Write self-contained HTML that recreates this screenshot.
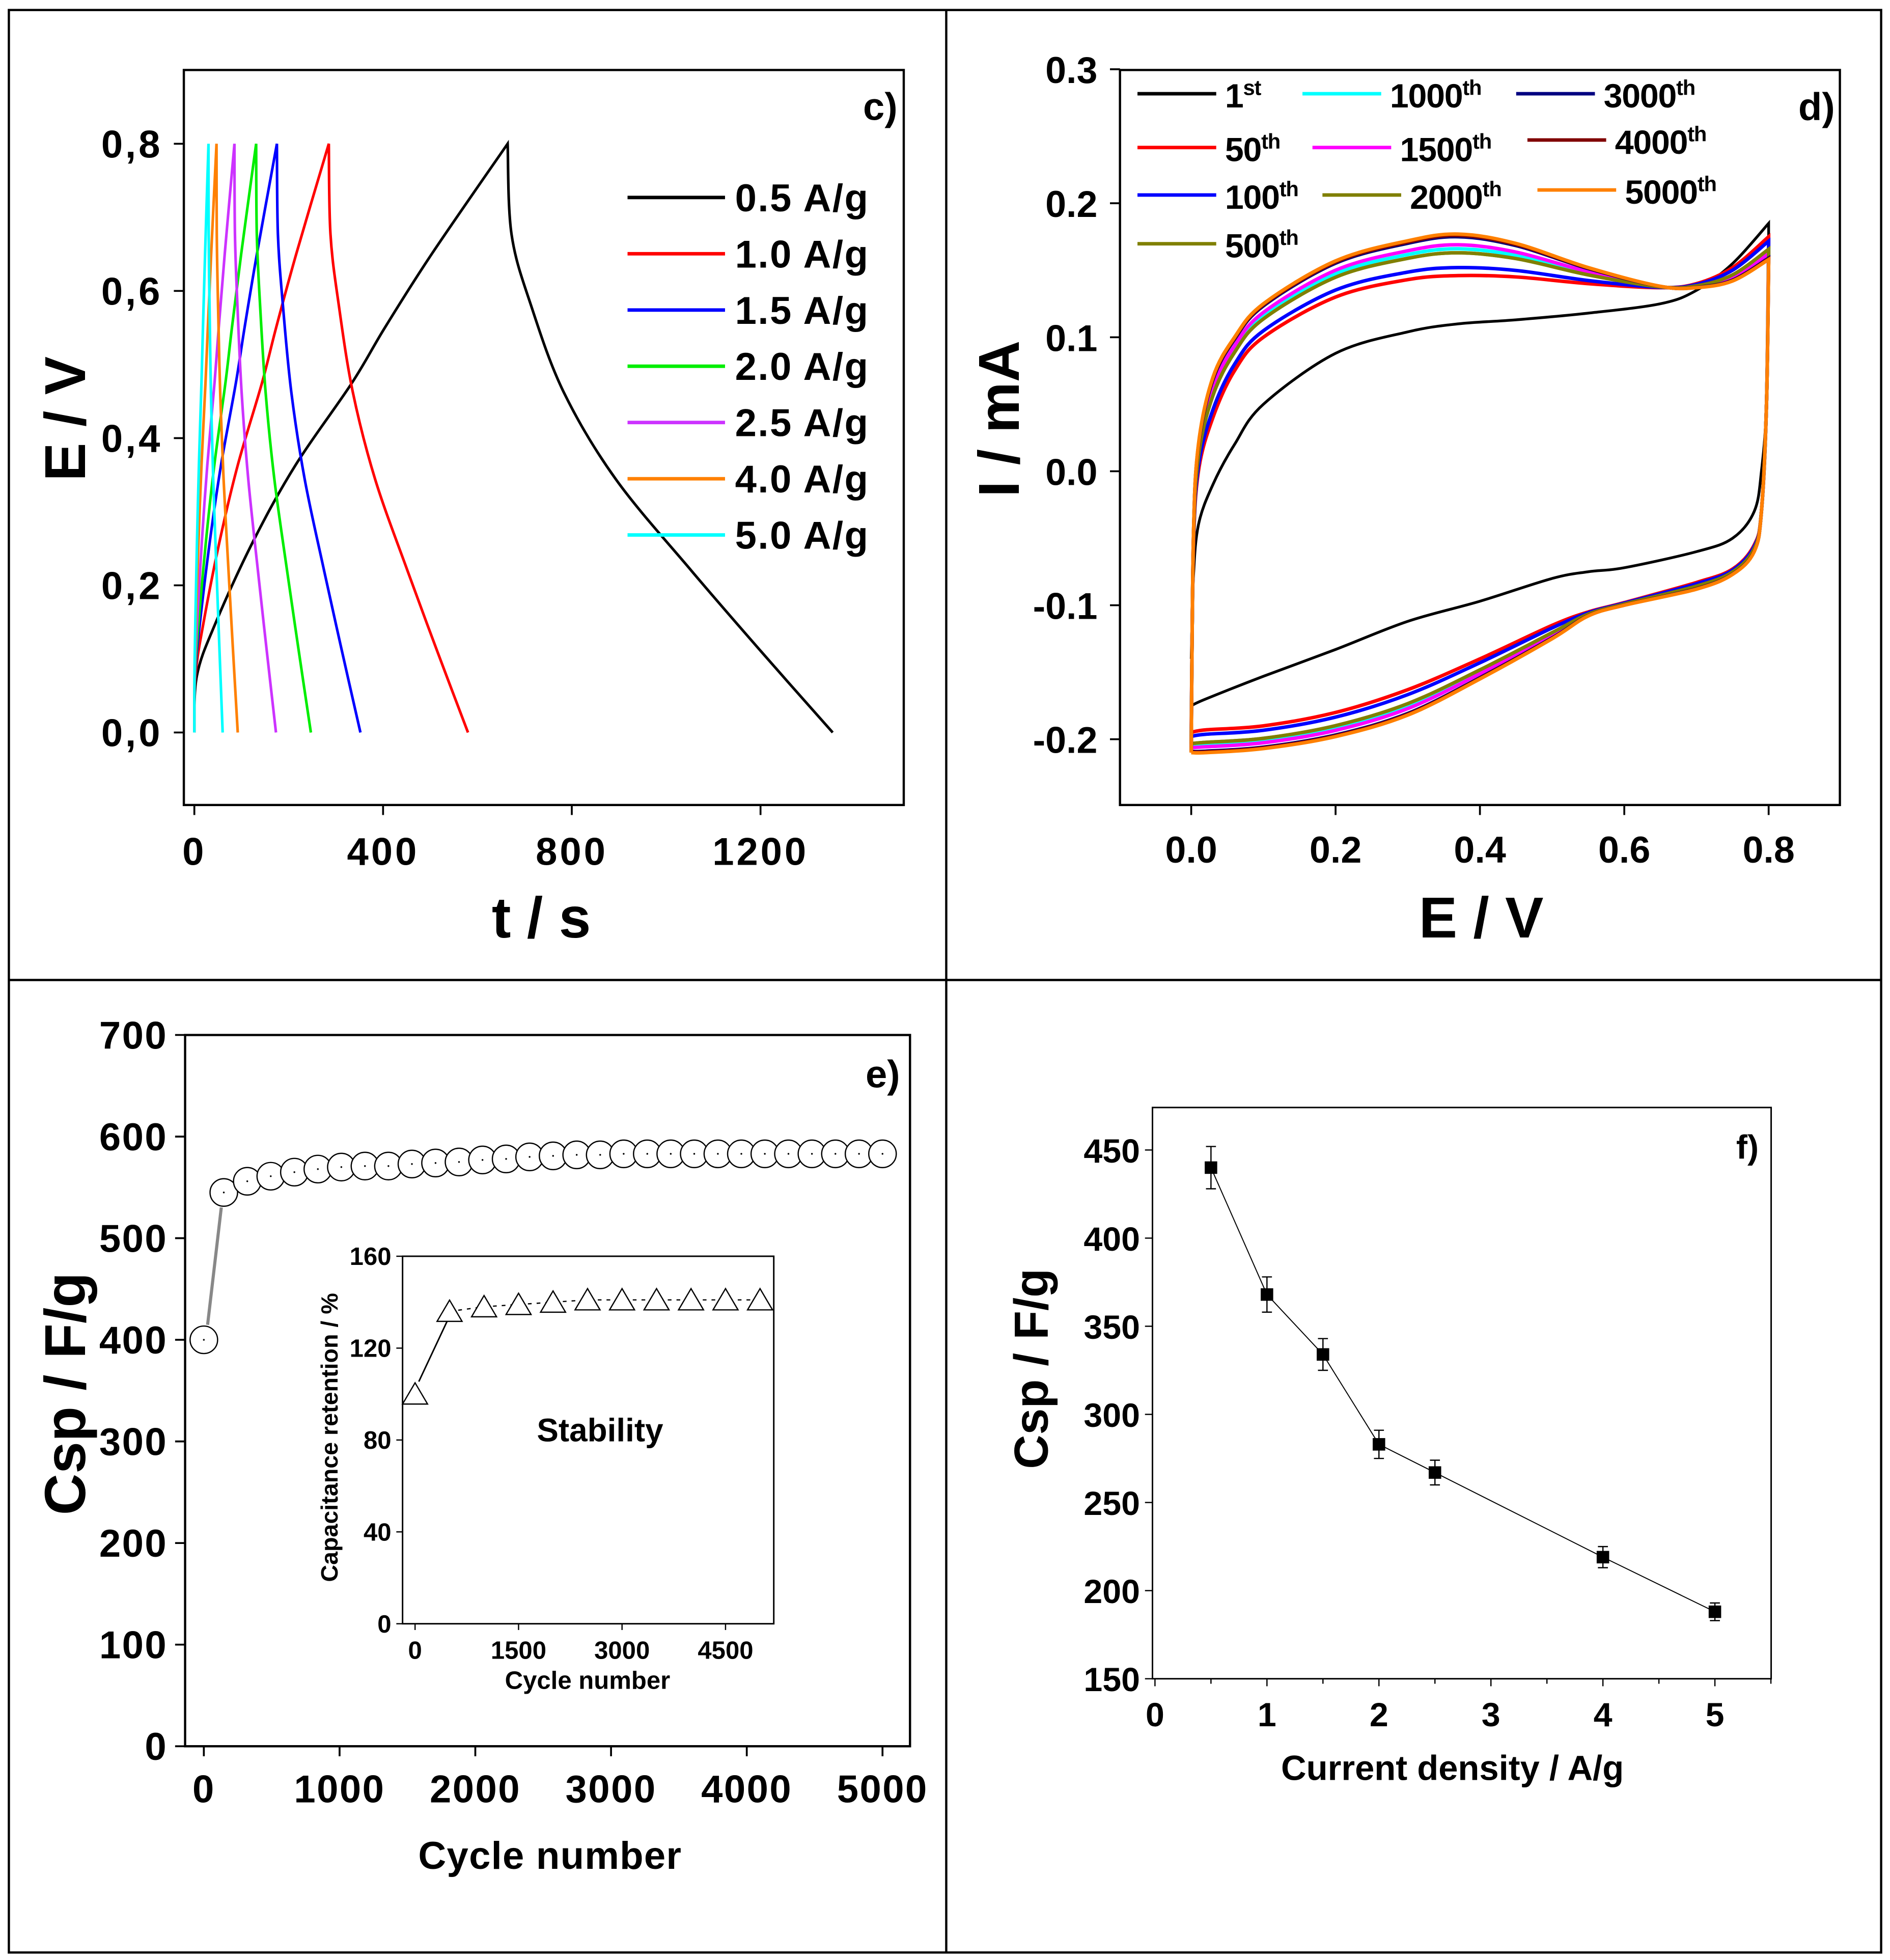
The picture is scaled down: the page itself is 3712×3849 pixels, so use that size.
<!DOCTYPE html>
<html><head><meta charset="utf-8">
<style>
html,body{margin:0;padding:0;background:#fff;}
svg{display:block;}
text{font-family:"Liberation Sans",sans-serif;font-weight:bold;fill:#000;}
.nar{font-family:"Liberation Sans Narrow","Liberation Sans",sans-serif;}
</style></head>
<body>
<svg id="fig" xmlns="http://www.w3.org/2000/svg" width="3712" height="3849" viewBox="0 0 1512 1568">
<rect x="0" y="0" width="1512" height="1568" fill="#fff"/>
<g stroke="#000" stroke-width="1.8" fill="none">
<rect x="7" y="8" width="1498" height="1554"/>
<line x1="757" y1="8" x2="757" y2="1562"/>
<line x1="7" y1="784" x2="1505" y2="784"/>
</g>
<g id="pc"></g>
<g id="pd"></g>
<g id="pe"></g>
<g id="pf"></g>
</svg>
<script>
// ---------- Panel c data ----------
const gcdLabels = ["0.5 A/g","1.0 A/g","1.5 A/g","2.0 A/g","2.5 A/g","4.0 A/g","5.0 A/g"];
const gcdColors = ["#000000","#ff0000","#0000ff","#00ee00","#cc33ff","#ff8000","#00ffff"];
const gcdChargeEnd = [664,285,175,131,85,47,30];
const gcdDischargeEnd = [1353,580,352,247,173,92,60];
const chargeFrac = [0,0.008,0.068,0.188,0.324,0.503,0.608,0.759,1];
const chargeE = [0,0.077,0.149,0.26,0.364,0.475,0.55,0.651,0.8];
const dischFrac = [0,0.012,0.073,0.173,0.333,0.565,0.78,1];
const dischE = [0.8,0.677,0.579,0.462,0.344,0.22,0.11,0];
const cXTicks = [0,400,800,1200];
const cYTicks = [0,0.2,0.4,0.6,0.8];
const cYTickLabels = ["0,0","0,2","0,4","0,6","0,8"];

// ---------- Panel d data ----------
const cvLabels = ["1st","50th","100th","500th","1000th","1500th","2000th","3000th","4000th","5000th"];
const cvColors = ["#000000","#ff0000","#0000ff","#808000","#00ffff","#ff00ff","#808000","#000080","#800000","#ff8000"];
const cvPeak = [null,0.146,0.152,0.163,0.166,0.169,0.163,0.175,0.176,0.177];
const cvEUp = [0,0.003,0.01,0.03,0.06,0.1,0.2,0.3,0.37,0.45,0.55,0.65,0.7,0.75,0.8];
const cvEDown = [0.8,0.797,0.79,0.78,0.75,0.7,0.6,0.55,0.5,0.4,0.3,0.2,0.1,0.02,0];
const cv1Up = [-0.14,-0.08,-0.04,-0.01,0.02,0.05,0.088,0.104,0.11,0.113,0.118,0.125,0.135,0.155,0.185];
const cv1Down = [0.15,0.05,0.0,-0.03,-0.05,-0.06,-0.072,-0.075,-0.08,-0.097,-0.112,-0.133,-0.153,-0.17,-0.175];
const cvLoUp = [-0.195,-0.06,0.0,0.04,0.075,0.1,0.13,0.143,0.146,0.145,0.14,0.137,0.14,0.152,0.175];
const cvLoDown = [0.17,0.05,-0.03,-0.055,-0.073,-0.083,-0.098,-0.105,-0.115,-0.14,-0.163,-0.18,-0.19,-0.193,-0.195];
const cvHiUp = [-0.21,-0.05,0.02,0.07,0.1,0.125,0.157,0.172,0.177,0.17,0.152,0.138,0.137,0.142,0.158];
const cvHiDown = [0.155,0.05,-0.03,-0.06,-0.077,-0.088,-0.1,-0.108,-0.125,-0.155,-0.182,-0.198,-0.207,-0.21,-0.21];
const dXTicks = [0,0.2,0.4,0.6,0.8];
const dXTickLabels = ["0.0","0.2","0.4","0.6","0.8"];
const dYTicks = [-0.2,-0.1,0,0.1,0.2,0.3];
const dYTickLabels = ["-0.2","-0.1","0.0","0.1","0.2","0.3"];

// ---------- Panel e data ----------
const eCycles = [0,147,320,493,667,840,1013,1187,1360,1533,1707,1880,2053,2227,2400,2573,2747,2920,3093,3267,3440,3613,3787,3960,4133,4307,4480,4653,4827,5000];
const eCsp = [400,545,556,561,565,568,570,571,571,573,574,575,577,578,580,581,582,582,583,583,583,583,583,583,583,583,583,583,583,583];
const eXTicks = [0,1000,2000,3000,4000,5000];
const eYTicks = [0,100,200,300,400,500,600,700];
const insetCycles = [0,500,1000,1500,2000,2500,3000,3500,4000,4500,5000];
const insetRet = [100,136,138,139,140,141,141,141,141,141,141];
const insetXTicks = [0,1500,3000,4500];
const insetYTicks = [0,40,80,120,160];

// ---------- Panel f data ----------
const fCurrent = [0.5,1,1.5,2,2.5,4,5];
const fCsp = [440,368,334,283,267,219,188];
const fErr = [12,10,9,8,7,6,5];
const fXTicks = [0,1,2,3,4,5];
const fYTicks = [150,200,250,300,350,400,450];

const NS="http://www.w3.org/2000/svg";
function el(parent,tag,attrs){const e=document.createElementNS(NS,tag);for(const k in attrs)e.setAttribute(k,attrs[k]);parent.appendChild(e);return e;}
function txt(parent,x,y,s,size,anchor,extra){const t=el(parent,'text',Object.assign({x:x,y:y,'font-size':size,'text-anchor':anchor||'middle'},extra||{}));t.textContent=s;return t;}
function smooth(pts){let d='M'+pts[0][0].toFixed(2)+','+pts[0][1].toFixed(2);
 for(let i=0;i<pts.length-1;i++){const p0=pts[Math.max(0,i-1)],p1=pts[i],p2=pts[i+1],p3=pts[Math.min(pts.length-1,i+2)];
  const c1=[p1[0]+(p2[0]-p0[0])/6,p1[1]+(p2[1]-p0[1])/6],c2=[p2[0]-(p3[0]-p1[0])/6,p2[1]-(p3[1]-p1[1])/6];
  d+=' C'+c1[0].toFixed(2)+','+c1[1].toFixed(2)+' '+c2[0].toFixed(2)+','+c2[1].toFixed(2)+' '+p2[0].toFixed(2)+','+p2[1].toFixed(2);}
 return d;}

// ================= Panel c =================
(function(){
const g=document.getElementById('pc');
const X=t=>155.4+t*0.3775, Y=v=>586-v*588.75;
gcdLabels.forEach((lab,i)=>{
  const tc=gcdChargeEnd[i], td=gcdDischargeEnd[i];
  const pts=[];
  chargeFrac.forEach((f,k)=>pts.push([X(f*tc),Y(chargeE[k])]));
  const up=smooth(pts);
  const pts2=[];
  dischFrac.forEach((f,k)=>pts2.push([X(tc+f*(td-tc)),Y(dischE[k])]));
  const dn=smooth(pts2).replace(/^M/,' L');
  const p=el(g,'path',{d:up+dn,fill:'none',stroke:gcdColors[i],'stroke-width':2.1});
  
  
});
const ax=el(g,'rect',{x:147,y:56,width:576,height:588,fill:'none',stroke:'#000','stroke-width':1.8});

cXTicks.forEach(t=>{el(g,'line',{x1:X(t),x2:X(t),y1:644,y2:652,stroke:'#000','stroke-width':1.5});
  const tt=txt(g,X(t),692,String(t),31,'middle',{'letter-spacing':'2'});
  });
cYTicks.forEach((v,i)=>{el(g,'line',{x1:139,x2:147,y1:Y(v),y2:Y(v),stroke:'#000','stroke-width':1.5});
  const tt=txt(g,130,Y(v)+11,cYTickLabels[i],31,'end',{'letter-spacing':'2'});
  });
let t=txt(g,433,750,'t / s',46,'middle');
t=txt(g,0,0,'E / V',46,'middle',{transform:'translate(68,335) rotate(-90)'});
t=txt(g,718,96,'c)',31,'end');
gcdLabels.forEach((lab,i)=>{const y=158+i*45;
  const lg=el(g,'g',{});
  el(lg,'line',{x1:502,x2:580,y1:y,y2:y,stroke:gcdColors[i],'stroke-width':2.8});
  txt(lg,588,y+11,lab,31,'start',{'letter-spacing':'1'});});
})();

// ================= Panel d =================
(function(){
const g=document.getElementById('pd');
const X=e=>953+e*577.5, Y=i=>377-i*1072;
cvLabels.forEach((lab,s)=>{
  let up,dn;
  if(s===0){up=cv1Up;dn=cv1Down;}
  else{const w=(cvPeak[s]-0.146)/(0.177-0.146);
    up=cvLoUp.map((v,k)=>v+(cvHiUp[k]-v)*w);dn=cvLoDown.map((v,k)=>v+(cvHiDown[k]-v)*w);}
  const p1=cvEUp.map((e,k)=>[X(e),Y(up[k])]);
  const p2=cvEDown.map((e,k)=>[X(e),Y(dn[k])]);
  const p=el(g,'path',{d:smooth(p1)+smooth(p2).replace(/^M/,' L'),fill:'none',stroke:cvColors[s],'stroke-width':s===0?2.2:2.8});
  
  
});
const ax=el(g,'rect',{x:896,y:56,width:576,height:588,fill:'none',stroke:'#000','stroke-width':1.8});

dXTicks.forEach((v,i)=>{el(g,'line',{x1:X(v),x2:X(v),y1:644,y2:652,stroke:'#000','stroke-width':1.5});
  const tt=txt(g,X(v),690,dXTickLabels[i],30,'middle');});
dYTicks.forEach((v,i)=>{el(g,'line',{x1:888,x2:896,y1:Y(v),y2:Y(v),stroke:'#000','stroke-width':1.5});
  const tt=txt(g,878,Y(v)+11,dYTickLabels[i],30,'end');});
let t=txt(g,1185,750,'E / V',46,'middle');
t=txt(g,0,0,'I / mA',46,'middle',{transform:'translate(815,335) rotate(-90)'});
t=txt(g,1468,96,'d)',31,'end');
const legPos=[[910,75],[910,118],[910,156],[910,195],[1042,75],[1050,118],[1058,156],[1213,75],[1222,112],[1230,152]];
cvLabels.forEach((lab,s)=>{const [x,y]=legPos[s];
  const lg=el(g,'g',{});
  el(lg,'line',{x1:x,x2:x+63,y1:y,y2:y,stroke:cvColors[s],'stroke-width':2.8});
  const num=lab.replace(/(st|th)$/,''),suf=lab.slice(num.length);
  const tt=txt(lg,x+70,y+11,'',27,'start',{'class':'nar','letter-spacing':'-0.5'});
  const a=el(tt,'tspan',{});a.textContent=num;
  const b=el(tt,'tspan',{dy:-10,'font-size':17});b.textContent=suf;});
})();

// ================= Panel e =================
(function(){
const g=document.getElementById('pe');
const X=c=>163+c*0.1086, Y=v=>1397-v*0.8129;
const ax=el(g,'rect',{x:148,y:828,width:580,height:569,fill:'none',stroke:'#000','stroke-width':1.8});

el(g,'line',{x1:X(eCycles[0])+3,y1:Y(eCsp[0])-12,x2:X(eCycles[1])-2,y2:Y(eCsp[1])+12,stroke:'#888','stroke-width':2.5});
eCycles.forEach((c,i)=>{const m=el(g,'circle',{cx:X(c),cy:Y(eCsp[i]),r:11,fill:'#fff',stroke:'#000','stroke-width':1});
  
  el(g,'circle',{cx:X(c),cy:Y(eCsp[i]),r:0.7,fill:'#000'});});
eXTicks.forEach(v=>{el(g,'line',{x1:X(v),x2:X(v),y1:1397,y2:1405,stroke:'#000','stroke-width':1.5});
  const tt=txt(g,X(v),1442,String(v),31,'middle',{'letter-spacing':'1'});});
eYTicks.forEach(v=>{el(g,'line',{x1:140,x2:148,y1:Y(v),y2:Y(v),stroke:'#000','stroke-width':1.5});
  const tt=txt(g,134,Y(v)+11,String(v),31,'end',{'letter-spacing':'1'});});
let t=txt(g,440,1495,'Cycle number',31,'middle',{'letter-spacing':'0.5'});
t=txt(g,0,0,'Csp / F/g',46,'middle',{transform:'translate(68,1115) rotate(-90)'});
t=txt(g,720,870,'e)',31,'end');
// inset
const IX=c=>332+c*0.0552, IY=v=>1299-v*1.8375;
const ia=el(g,'rect',{x:322,y:1005,width:297,height:294,fill:'none',stroke:'#000','stroke-width':1.2});

el(g,'line',{x1:IX(insetCycles[0])+3,y1:IY(insetRet[0])-10,x2:IX(insetCycles[1])-2,y2:IY(insetRet[1])+8,stroke:'#000','stroke-width':1.2});
const dp=insetCycles.slice(1).map((c,i)=>[IX(c),IY(insetRet[i+1])]);
el(g,'polyline',{points:dp.map(p=>p.join(',')).join(' '),fill:'none',stroke:'#000','stroke-width':1,'stroke-dasharray':'3,4'});
insetCycles.forEach((c,i)=>{const x=IX(c),y=IY(insetRet[i]);
  const m=el(g,'polygon',{points:(x)+','+(y-9)+' '+(x-10)+','+(y+8)+' '+(x+10)+','+(y+8),fill:'#fff',stroke:'#000','stroke-width':1});
  });
insetXTicks.forEach(v=>{el(g,'line',{x1:IX(v),x2:IX(v),y1:1299,y2:1304,stroke:'#000','stroke-width':1});
  const tt=txt(g,IX(v),1327,String(v),20,'middle',{'class':'nar'});});
insetYTicks.forEach(v=>{el(g,'line',{x1:317,x2:322,y1:IY(v),y2:IY(v),stroke:'#000','stroke-width':1});
  const tt=txt(g,313,IY(v)+7,String(v),20,'end',{'class':'nar'});});
t=txt(g,470,1351,'Cycle number',20,'middle',{'class':'nar'});
t=txt(g,0,0,'Capacitance retention / %',19,'middle',{'class':'nar',transform:'translate(270,1150) rotate(-90)'});
t=txt(g,480,1153,'Stability',26,'middle',{'font-weight':'normal'});
})();

// ================= Panel f =================
(function(){
const g=document.getElementById('pf');
const X=c=>924+c*89.6, Y=v=>1343-(v-150)*1.41;
const ax=el(g,'rect',{x:922,y:886,width:495,height:457,fill:'none',stroke:'#000','stroke-width':1.2});

el(g,'polyline',{points:fCurrent.map((c,i)=>X(c)+','+Y(fCsp[i])).join(' '),fill:'none',stroke:'#000','stroke-width':0.8});
fCurrent.forEach((c,i)=>{const x=X(c),y=Y(fCsp[i]),e=fErr[i]*1.41;
  el(g,'path',{d:`M${x},${y-e}V${y+e}M${x-4},${y-e}H${x+4}M${x-4},${y+e}H${x+4}`,stroke:'#000','stroke-width':1,fill:'none'});
  const m=el(g,'rect',{x:x-5,y:y-5,width:10,height:10,fill:'#000'});
  });
fXTicks.forEach(v=>{el(g,'line',{x1:X(v),x2:X(v),y1:1343,y2:1349,stroke:'#000','stroke-width':1});
  const tt=txt(g,X(v),1381,String(v),27,'middle',{'class':'nar'});});
[0.5,1.5,2.5,3.5,4.5,5.5].forEach(v=>el(g,'line',{x1:X(v),x2:X(v),y1:1343,y2:1347,stroke:'#000','stroke-width':1}));
fYTicks.forEach(v=>{el(g,'line',{x1:916,x2:922,y1:Y(v),y2:Y(v),stroke:'#000','stroke-width':1});
  const tt=txt(g,912,Y(v)+10,String(v),27,'end',{'class':'nar'});});
let t=txt(g,1162,1424,'Current density / A/g',28,'middle',{'class':'nar'});
t=txt(g,0,0,'Csp / F/g',38,'middle',{transform:'translate(838,1095) rotate(-90)'});
t=txt(g,1407,927,'f)',27,'end',{'class':'nar'});
})();
</script>
</body></html>
